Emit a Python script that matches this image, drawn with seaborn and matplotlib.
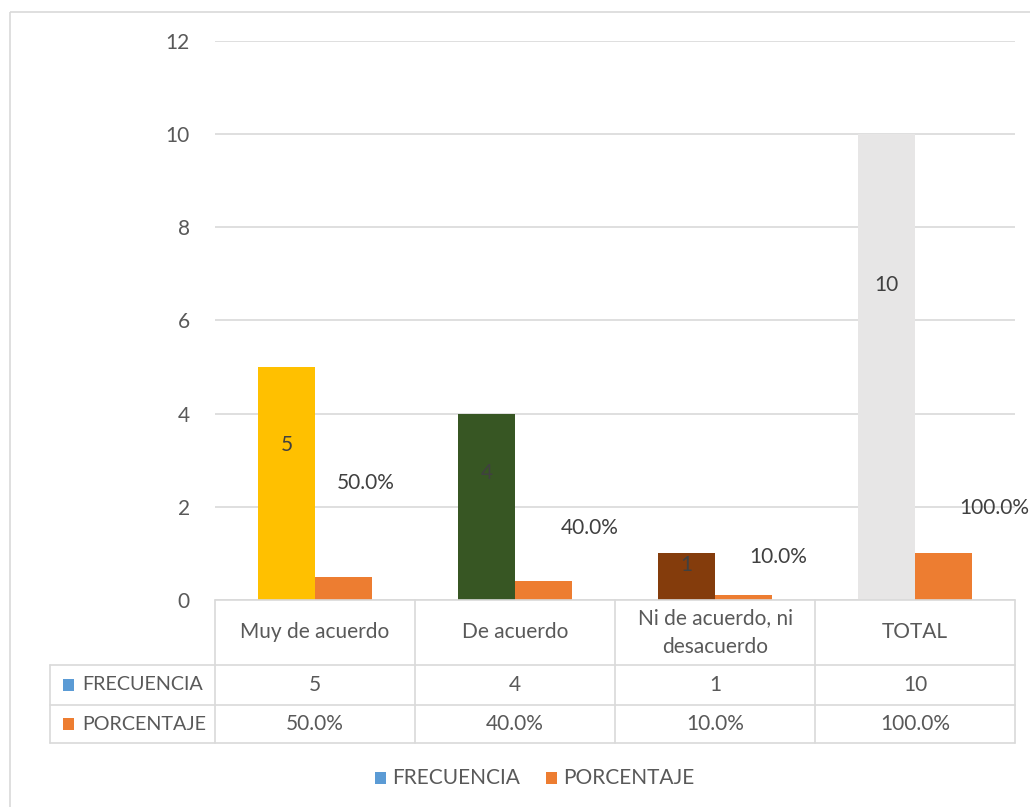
import matplotlib
matplotlib.use("Agg")
import matplotlib.pyplot as plt
from matplotlib.patches import Rectangle
import seaborn as sns
import pandas as pd

# ---- data ----
categories = ["Muy de acuerdo", "De acuerdo", "Ni de acuerdo, ni\ndesacuerdo", "TOTAL"]
frecuencia = [5, 4, 1, 10]
porcentaje = [0.5, 0.4, 0.1, 1.0]
freq_labels = ["5", "4", "1", "10"]
pct_labels = ["50.0%", "40.0%", "10.0%", "100.0%"]
series_names = ["FRECUENCIA", "PORCENTAJE"]
yticks = [0, 2, 4, 6, 8, 10, 12]
# label placement (value units / category units), as placed in the original
freq_label_y = [3.33, 2.72, 0.75, 6.76]
pct_label_y = [2.51, 1.55, 0.92, 1.97]
pct_label_dx = [0.11, 0.23, 0.175, 0.255]

freq_colors = ["#FFC000", "#375623", "#843C0C", "#E7E6E6"]
pct_color = "#ED7D31"
legend_colors = ["#5B9BD5", "#ED7D31"]
text_color = "#595959"
label_color = "#404040"
grid_color = "#D9D9D9"
FS = 15

sns.set_theme(style="white")
plt.rcParams["font.family"] = ["Lato", "DejaVu Sans"]

W, H = 1030, 807
fig = plt.figure(figsize=(W / 100, H / 100), dpi=100)
fig.patch.set_facecolor("white")

ax_l, ax_r, ax_b, ax_t = 215, 1015, 600, 41
ax = fig.add_axes([ax_l / W, 1 - ax_b / H, (ax_r - ax_l) / W, (ax_b - ax_t) / H])

df = pd.DataFrame({
    "cat": categories * 2,
    "val": frecuencia + porcentaje,
    "serie": [series_names[0]] * 4 + [series_names[1]] * 4,
})
sns.barplot(data=df, x="cat", y="val", hue="serie", order=categories,
            hue_order=series_names, palette=legend_colors, width=0.57,
            ax=ax, legend=False, saturation=1)

bars = ax.patches
for i, p in enumerate(bars[:4]):
    p.set_facecolor(freq_colors[i])
    p.set_edgecolor("none")
for p in bars[4:8]:
    p.set_facecolor(pct_color)
    p.set_edgecolor("none")

ax.set_ylim(0, 12)
ax.set_xlim(-0.5, 3.5)
ax.set_yticks(yticks)
ax.set_yticklabels([str(t) for t in yticks], fontsize=FS, color=text_color)
ax.tick_params(axis="y", length=0, pad=18)
ax.set_xticks([])
ax.set_xlabel("")
ax.set_ylabel("")
for s in ax.spines.values():
    s.set_visible(False)
ax.yaxis.grid(True, color=grid_color, linewidth=1.2)
ax.set_axisbelow(True)

# data labels
for i in range(4):
    fb = bars[i]
    cx = fb.get_x() + fb.get_width() / 2
    ax.text(cx, freq_label_y[i], freq_labels[i], ha="center", va="center",
            fontsize=FS, color=label_color)
    pb = bars[4 + i]
    px = pb.get_x() + pb.get_width() / 2 + pct_label_dx[i]
    ax.text(px, pct_label_y[i], pct_labels[i], ha="center", va="center",
            fontsize=FS, color=label_color, clip_on=False)

# ---- overlay in pixel coords for table, legend, border ----
ov = fig.add_axes([0, 0, 1, 1], facecolor="none")
ov.set_xlim(0, W)
ov.set_ylim(H, 0)
ov.axis("off")

ov.add_patch(Rectangle((10, 12), W, H, fill=False, edgecolor=grid_color, linewidth=1.2))

col_w = (ax_r - ax_l) / 4
cols = [ax_l + col_w * k for k in range(5)]
tbl_left = 50
row_y = [600, 665, 705, 743]
lc = grid_color
lw = 1.2
ov.plot([ax_l, ax_r], [row_y[0], row_y[0]], color=lc, lw=lw)
for y in row_y[1:]:
    ov.plot([tbl_left, ax_r], [y, y], color=lc, lw=lw)
for x in cols:
    ov.plot([x, x], [row_y[0], row_y[3]], color=lc, lw=lw)
ov.plot([tbl_left, tbl_left], [row_y[1], row_y[3]], color=lc, lw=lw)

for k, c in enumerate(categories):
    ov.text((cols[k] + cols[k + 1]) / 2, (row_y[0] + row_y[1]) / 2, c,
            ha="center", va="center", fontsize=FS, color=text_color, linespacing=1.6)
row_vals = [freq_labels, pct_labels]
for r in range(2):
    yc = (row_y[1 + r] + row_y[2 + r]) / 2
    ov.add_patch(Rectangle((63, yc - 6), 11, 12, facecolor=legend_colors[r], edgecolor="none"))
    ov.text(82, yc, series_names[r], ha="left", va="center", fontsize=14.2, color=text_color)
    for k in range(4):
        ov.text((cols[k] + cols[k + 1]) / 2, yc, row_vals[r][k], ha="center",
                va="center", fontsize=FS, color=text_color)

leg_y = 778
lx = [375, 546]
for r in range(2):
    ov.add_patch(Rectangle((lx[r], leg_y - 6), 11, 12, facecolor=legend_colors[r], edgecolor="none"))
    ov.text(lx[r] + 17, leg_y, series_names[r], ha="left", va="center",
            fontsize=FS, color=text_color)

fig.savefig("out.png", dpi=100, facecolor="white")
